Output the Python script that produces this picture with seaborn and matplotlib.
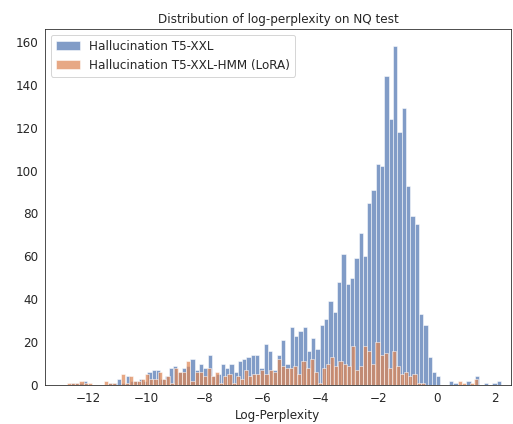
import numpy as np
import pandas as pd
import matplotlib
matplotlib.use("Agg")
import matplotlib.pyplot as plt
import seaborn as sns

# counts per bin, 100 equal bins over each model's own range of log-perplexity
t5_lo, t5_hi = -12.64, 2.20
t5_counts = [1, 1, 1, 2, 0, 0, 0, 0, 0, 1,
             1, 3, 1, 4, 2, 2, 3, 2, 6, 7,
             7, 3, 4, 8, 9, 6, 8, 9, 12, 7,
             10, 8, 14, 4, 5, 10, 8, 10, 6, 11,
             12, 13, 14, 14, 8, 19, 16, 7, 14, 21,
             10, 27, 23, 25, 27, 16, 22, 17, 28, 31,
             39, 34, 48, 61, 47, 50, 59, 71, 60, 85,
             91, 103, 102, 144, 124, 158, 118, 129, 93, 79,
             75, 33, 28, 13, 6, 4, 0, 0, 2, 1,
             0, 0, 2, 0, 4, 0, 1, 0, 1, 2]

hmm_lo, hmm_hi = -12.73, 1.42
hmm_counts = [1, 1, 1, 2, 1, 1, 0, 0, 0, 2,
              1, 1, 0, 5, 1, 4, 2, 2, 3, 5,
              3, 3, 6, 3, 4, 1, 8, 6, 6, 11,
              2, 6, 6, 4, 8, 4, 6, 1, 4, 5,
              1, 4, 3, 7, 4, 5, 5, 7, 5, 7,
              6, 12, 9, 8, 8, 9, 5, 11, 8, 12,
              6, 1, 8, 10, 13, 9, 11, 10, 9, 18,
              7, 9, 18, 16, 10, 20, 14, 15, 8, 16,
              9, 5, 6, 4, 5, 1, 1, 0, 0, 0,
              0, 0, 0, 0, 0, 2, 1, 0, 1, 3]

labels = ["Hallucination T5-XXL", "Hallucination T5-XXL-HMM (LoRA)"]

sns.set_style("white")
plt.rcParams["font.family"] = ["DejaVu Sans"]
plt.rcParams["font.size"] = 12

fig = plt.figure(figsize=(513 / 72, 424 / 72), dpi=72)
ax = fig.add_axes([45 / 513, 1 - 385 / 424, 466 / 513, 356 / 424])

pal = sns.color_palette("deep")
for lo, hi, cnt, lab, col in [(t5_lo, t5_hi, t5_counts, labels[0], pal[0]),
                              (hmm_lo, hmm_hi, hmm_counts, labels[1], pal[1])]:
    edges = np.linspace(lo, hi, len(cnt) + 1)
    df = pd.DataFrame({"logppl": (edges[:-1] + edges[1:]) / 2,
                       "n": np.asarray(cnt, dtype=float)})
    sns.histplot(data=df, x="logppl", weights="n", bins=len(cnt),
                 binrange=(lo, hi), color=col, alpha=0.7,
                 edgecolor="white", linewidth=0.5, label=lab, ax=ax)

ax.set_xlim(-13.49, 2.55)
ax.set_ylim(0, 166)
ax.set_xticks([-12, -10, -8, -6, -4, -2, 0, 2])
ax.set_yticks(range(0, 161, 20))
ax.set_xlabel("Log-Perplexity")
ax.set_ylabel("")
ax.set_title("Distribution of log-perplexity on NQ test", fontsize=12)
ax.legend(loc="upper left")

fig.savefig("out.png", dpi=72)
